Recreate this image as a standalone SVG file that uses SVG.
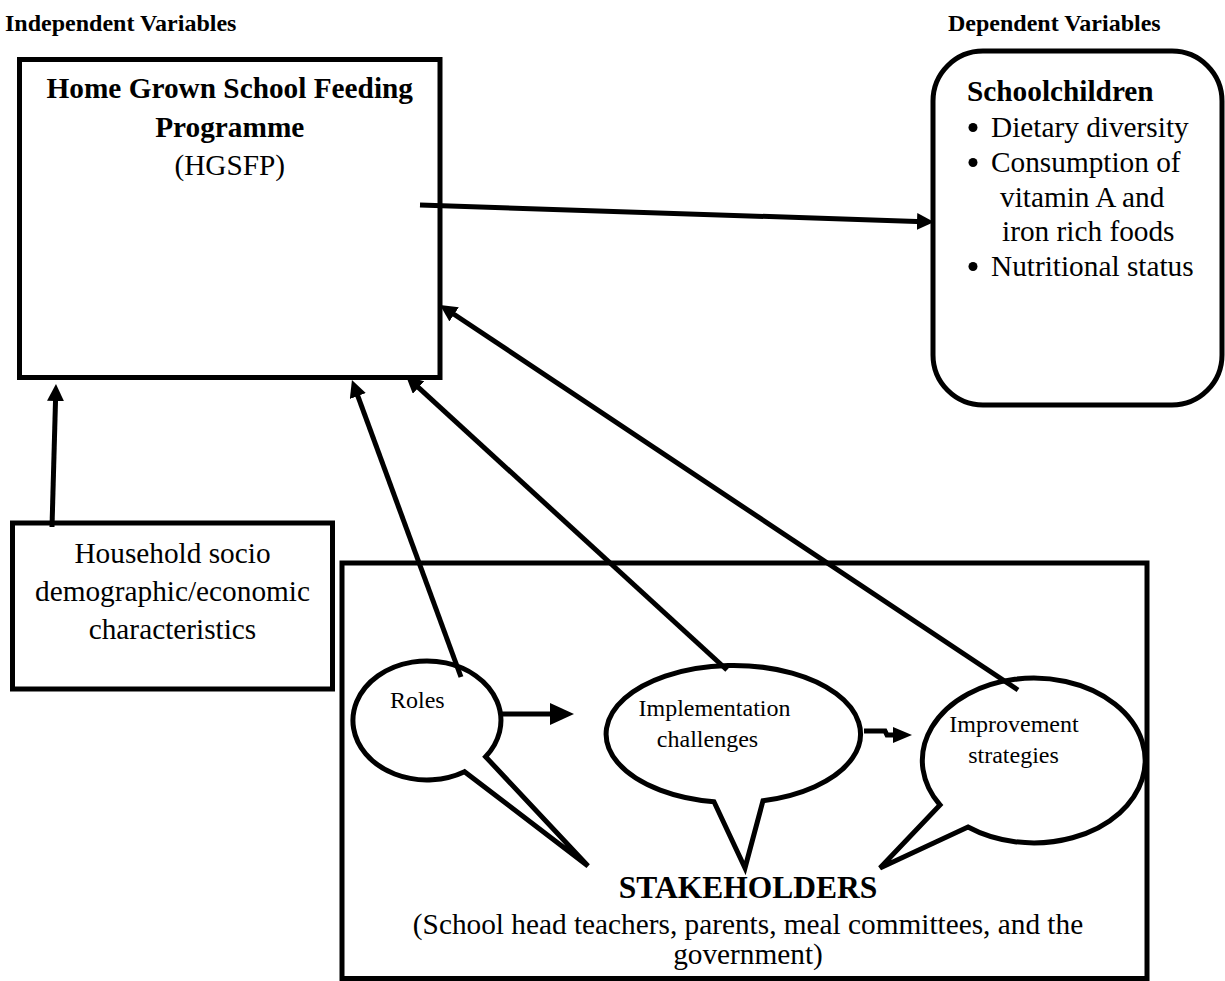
<svg xmlns="http://www.w3.org/2000/svg" width="1225" height="981" viewBox="0 0 1225 981">
  <style>
    .t { font-family: "Liberation Serif", "Times New Roman", serif; fill: #000; }
    .b { font-weight: bold; }
    .dot { fill: #000; }
    .box { fill: #fff; stroke: #000; stroke-width: 5; }
    .bub { fill: #fff; stroke: #000; stroke-width: 5; stroke-linejoin: miter; }
    .ln { fill: none; stroke: #000; stroke-width: 5; }
  </style>
  <defs>
    <marker id="ah" markerUnits="userSpaceOnUse" viewBox="0 0 17 17" markerWidth="17" markerHeight="17" refX="7" refY="8.5" orient="auto">
      <path d="M0,0 L17,8.5 L0,17 z" fill="#000"/>
    </marker>
    <marker id="ahBig" markerUnits="userSpaceOnUse" viewBox="0 0 24 22" markerWidth="24" markerHeight="22" refX="10" refY="11" orient="auto">
      <path d="M0,0 L24,11 L0,22 z" fill="#000"/>
    </marker>
    <marker id="ahSmall" markerUnits="userSpaceOnUse" viewBox="0 0 19 16" markerWidth="19" markerHeight="16" refX="8" refY="8" orient="auto">
      <path d="M0,0 L19,8 L0,16 z" fill="#000"/>
    </marker>
  </defs>
  <rect width="1225" height="981" fill="#fff"/>

  <g id="header-independent">
    <text class="t b" x="5" y="31" font-size="24">Independent Variables</text>
  </g>
  <g id="header-dependent">
    <text class="t b" x="948" y="31" font-size="24">Dependent Variables</text>
  </g>

  <g id="node-hgsfp">
    <rect class="box" x="19.5" y="59.5" width="420.5" height="318"/>
    <text class="t b" x="229.75" y="98" font-size="29.3" text-anchor="middle">Home Grown School Feeding</text>
    <text class="t b" x="229.75" y="137" font-size="29.3" text-anchor="middle">Programme</text>
    <text class="t" x="229.75" y="175" font-size="29.3" text-anchor="middle">(HGSFP)</text>
  </g>

  <g id="node-schoolchildren">
    <rect class="box" x="933" y="51" width="289" height="354" rx="50" ry="50"/>
    <text class="t b" x="967" y="101" font-size="29.3">Schoolchildren</text>
    <circle class="dot" cx="973" cy="127.5" r="4.5"/>
    <text class="t" x="991" y="137" font-size="29.3">Dietary diversity</text>
    <circle class="dot" cx="973" cy="162.5" r="4.5"/>
    <text class="t" x="991" y="172" font-size="29.3">Consumption of</text>
    <text class="t" x="1000" y="207" font-size="29.3">vitamin A and</text>
    <text class="t" x="1002" y="241" font-size="29.3">iron rich foods</text>
    <circle class="dot" cx="973" cy="266.5" r="4.5"/>
    <text class="t" x="991" y="276" font-size="29.3">Nutritional status</text>
  </g>

  <g id="node-household">
    <rect class="box" x="12.5" y="523" width="320" height="166"/>
    <text class="t" x="172.5" y="563" font-size="29.3" text-anchor="middle">Household socio</text>
    <text class="t" x="172.5" y="601" font-size="29.3" text-anchor="middle">demographic/economic</text>
    <text class="t" x="172.5" y="639" font-size="29.3" text-anchor="middle">characteristics</text>
  </g>

  <g id="node-stakeholders">
    <rect class="box" x="342" y="563" width="805" height="415.5"/>
    <text class="t b" x="748" y="898" font-size="31.5" text-anchor="middle">STAKEHOLDERS</text>
    <text class="t" x="748" y="934" font-size="29.3" text-anchor="middle">(School head teachers, parents, meal committees, and the</text>
    <text class="t" x="748" y="964" font-size="29.3" text-anchor="middle">government)</text>
  </g>

  <g id="node-roles">
    <path class="bub" d="M485.6,756.7 A74,59.5 0 1 0 464.5,771.7 L588,866 Z"/>
    <text class="t" x="390" y="708" font-size="24">Roles</text>
  </g>

  <g id="node-implementation">
    <path class="bub" d="M763,800.7 A127.2,68.6 0 1 0 714,801.8 L745,868 Z"/>
    <text class="t" x="714.5" y="716" font-size="24" text-anchor="middle">Implementation</text>
    <text class="t" x="707.5" y="747" font-size="24" text-anchor="middle">challenges</text>
  </g>

  <g id="node-improvement">
    <path class="bub" d="M968,827 A111.4,82.4 0 1 0 940,805 L880,868 Z"/>
    <text class="t" x="1014" y="732" font-size="24" text-anchor="middle">Improvement</text>
    <text class="t" x="1013.5" y="763" font-size="24" text-anchor="middle">strategies</text>
  </g>

  <g id="connectors">
    <path class="ln" d="M420,205 L924,221.7" marker-end="url(#ah)"/>
    <path class="ln" d="M52,527 L55.7,394" stroke-width="6" marker-end="url(#ah)"/>
    <path class="ln" d="M461,677 L355.4,389.4" marker-end="url(#ah)"/>
    <path class="ln" d="M727,670 L413.4,382.8" marker-end="url(#ah)"/>
    <path class="ln" d="M1018,690 L448.3,310.5" marker-end="url(#ah)"/>
    <path class="ln" d="M502,714 L560,714" stroke-width="8" marker-end="url(#ahBig)"/>
    <path class="ln" d="M864,731 L885,731 L887,735 L901,735" stroke-width="6" marker-end="url(#ahSmall)"/>
  </g>
</svg>
